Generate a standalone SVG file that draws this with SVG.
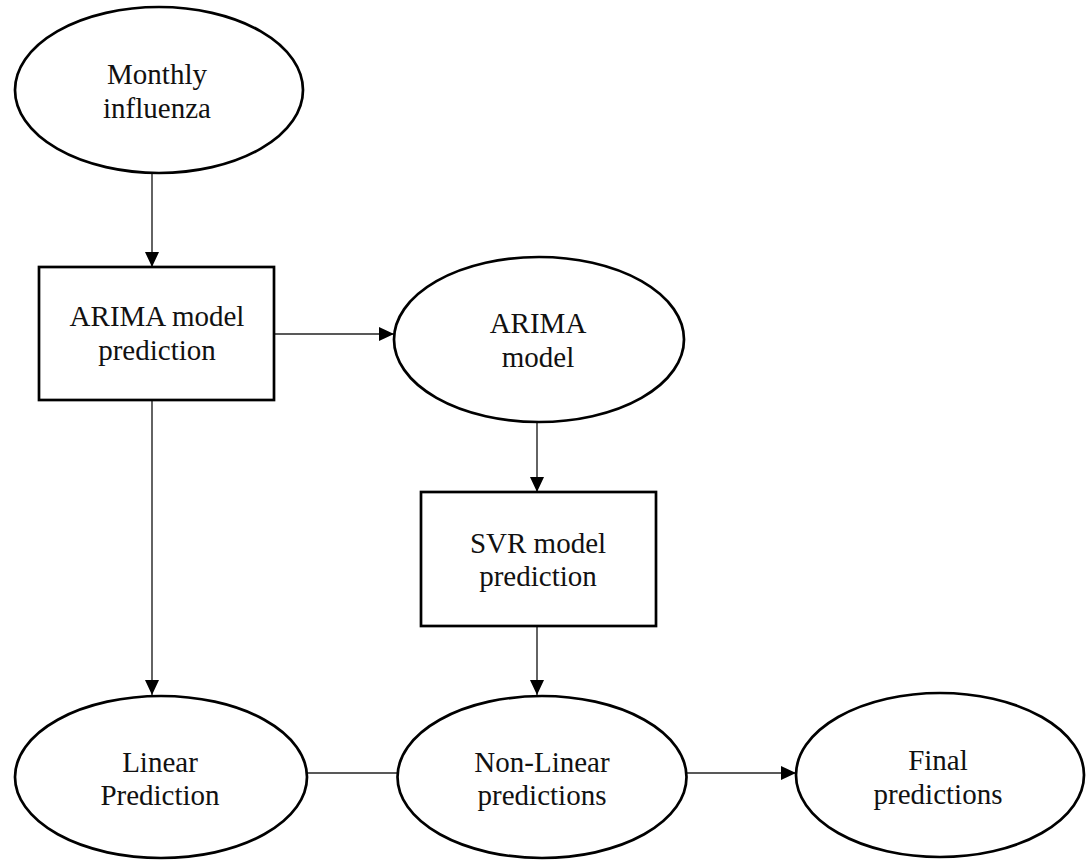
<svg xmlns="http://www.w3.org/2000/svg" width="1087" height="861" viewBox="0 0 1087 861">
<style>
.n{fill:#fff;stroke:#000;stroke-width:2.7}
.t{font-family:"Liberation Serif","Times New Roman",serif;font-size:29px;fill:#111;text-anchor:middle}
.c{stroke:#222;stroke-width:1.4;fill:none}
.a{stroke:#222;stroke-width:1.4;fill:none;marker-end:url(#ah)}
</style>
<defs>
<marker id="ah" markerWidth="16" markerHeight="14" refX="15" refY="7" orient="auto" markerUnits="userSpaceOnUse">
<path d="M0,0 L15,7 L0,14 Z" fill="#000"/>
</marker>
</defs>
<rect width="1087" height="861" fill="#fff"/>
<g id="connectors">
<line class="a" x1="152" y1="173" x2="152" y2="267"/>
<line class="a" x1="274" y1="334" x2="394" y2="334"/>
<line class="a" x1="152" y1="400" x2="152" y2="695"/>
<line class="a" x1="537" y1="422" x2="537" y2="492"/>
<line class="a" x1="537" y1="626" x2="537" y2="695"/>
<line class="c" x1="307" y1="773" x2="397" y2="773"/>
<line class="a" x1="686" y1="773" x2="796" y2="773"/>
</g>
<g id="monthly">
<ellipse class="n" cx="159" cy="90" rx="144" ry="83"/>
<text class="t" x="157" y="84">Monthly</text>
<text class="t" x="157" y="118">influenza</text>
</g>
<g id="arima-pred">
<rect class="n" x="39" y="267" width="235" height="133"/>
<text class="t" x="157" y="326">ARIMA model</text>
<text class="t" x="157" y="360">prediction</text>
</g>
<g id="arima-model">
<ellipse class="n" cx="539" cy="339.5" rx="145" ry="82.5"/>
<text class="t" x="538" y="333">ARIMA</text>
<text class="t" x="538" y="367">model</text>
</g>
<g id="svr">
<rect class="n" x="421" y="492" width="235" height="134"/>
<text class="t" x="538" y="553">SVR model</text>
<text class="t" x="538" y="586">prediction</text>
</g>
<g id="linear">
<ellipse class="n" cx="161" cy="777" rx="146" ry="81"/>
<text class="t" x="160" y="772">Linear</text>
<text class="t" x="160" y="805">Prediction</text>
</g>
<g id="nonlinear">
<ellipse class="n" cx="542" cy="777" rx="144.5" ry="81"/>
<text class="t" x="542" y="772">Non-Linear</text>
<text class="t" x="542" y="805">predictions</text>
</g>
<g id="final">
<ellipse class="n" cx="940" cy="775" rx="144" ry="82"/>
<text class="t" x="938" y="770">Final</text>
<text class="t" x="938" y="804">predictions</text>
</g>
</svg>
